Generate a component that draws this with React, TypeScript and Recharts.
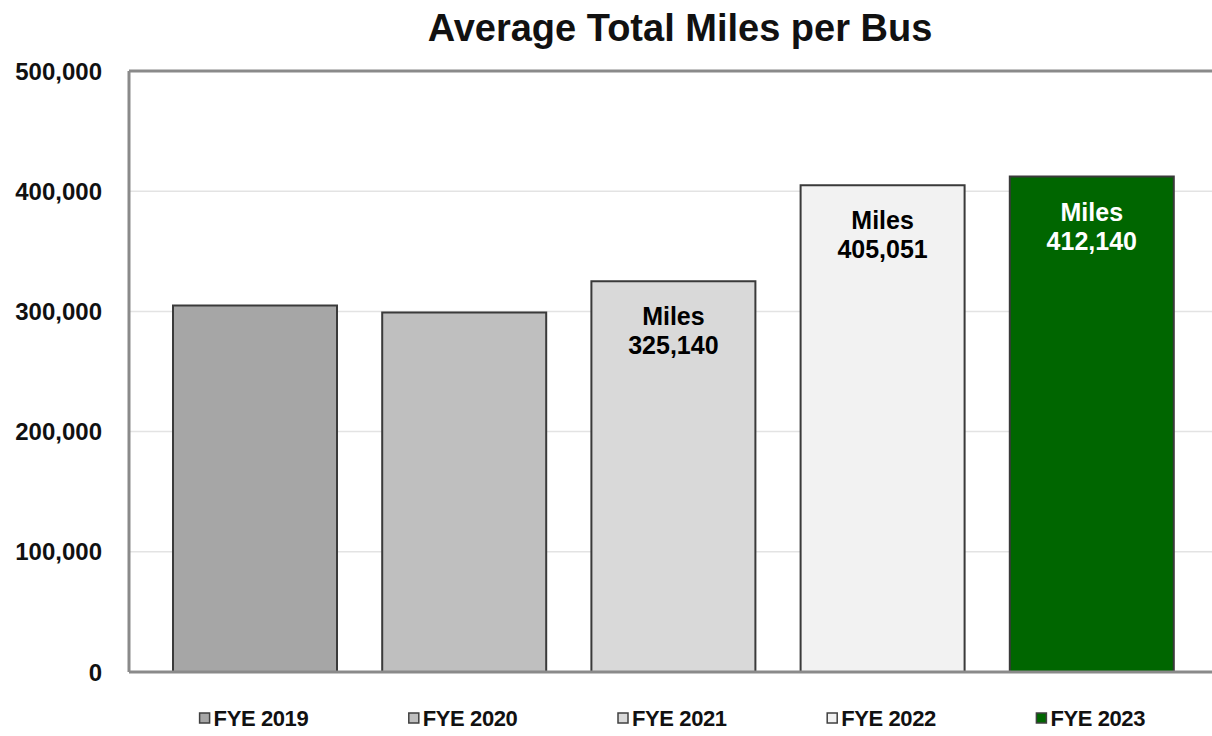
import React from 'react'
import { BarChart, Bar, XAxis, YAxis, CartesianGrid, Cell, LabelList, ReferenceLine } from 'recharts'

const categories = ['FYE 2019', 'FYE 2020', 'FYE 2021', 'FYE 2022', 'FYE 2023']
const miles = [305000, 299000, 325140, 405051, 412140]
const showLabel = [false, false, true, true, true]
const barColors = ['#a6a6a6', '#bfbfbf', '#d9d9d9', '#f2f2f2', '#006600']
const labelColors = ['#000000', '#000000', '#000000', '#000000', '#ffffff']
const yTicks = [0, 100000, 200000, 300000, 400000, 500000]

const FONT = '"Liberation Sans", Arial, sans-serif'

const data = categories.map((name, i) => ({ name, miles: miles[i], idx: i }))

const fmt = (v: number) => v.toLocaleString('en-US')

// legend entries sit centred under each bar, so they're drawn as x-axis ticks
function LegendTick({ x, y, payload }: any) {
  const i = payload.index
  return (
    <g transform={`translate(${x},${y + 46})`}>
      <rect x={-55} y={-5} width={10} height={10} fill={barColors[i]} stroke="#404040" strokeWidth={1.5} />
      <text
        x={-41}
        y={0}
        dominantBaseline="central"
        textAnchor="start"
        fontFamily={FONT}
        fontWeight="bold"
        fontSize={22}
        letterSpacing={-0.4}
        fill="#111"
      >
        {payload.value}
      </text>
    </g>
  )
}

function MilesLabel(props: any) {
  const { x, y, width, index } = props
  if (!showLabel[index]) return null
  const cx = x + width / 2
  const color = labelColors[index]
  return (
    <g fontFamily={FONT} fontWeight="bold" fontSize={25} fill={color} textAnchor="middle">
      <text x={cx} y={y + 44}>Miles</text>
      <text x={cx} y={y + 73}>{fmt(miles[index])}</text>
    </g>
  )
}

export default function App() {
  return (
    <div style={{ position: 'fixed', left: 0, top: 0, width: 1212, height: 736, overflow: 'hidden', background: '#fff' }}>
      <div
        style={{
          position: 'absolute',
          top: 7,
          left: 0,
          width: 1360,
          textAlign: 'center',
          fontFamily: FONT,
          fontWeight: 'bold',
          fontSize: 38,
          color: '#111',
        }}
      >
        Average Total Miles per Bus
      </div>
      <BarChart
        width={1230}
        height={736}
        data={data}
        margin={{ top: 71, right: 13, left: 0, bottom: 0 }}
        barSize={164}
      >
        <CartesianGrid horizontal vertical={false} stroke="#e3e3e3" strokeWidth={1.5} />
        <XAxis
          dataKey="name"
          height={64}
          padding={{ left: 21, right: 21 }}
          axisLine={{ stroke: '#8a8a8a', strokeWidth: 3 }}
          tickLine={false}
          tickSize={0}
          tickMargin={0}
          tick={<LegendTick />}
          interval={0}
        />
        <YAxis
          width={129}
          domain={[0, 500000]}
          ticks={yTicks}
          tickFormatter={fmt}
          axisLine={{ stroke: '#8a8a8a', strokeWidth: 3 }}
          tickLine={false}
          tickSize={0}
          tickMargin={27}
          tick={{ fontFamily: FONT, fontWeight: 'bold', fontSize: 24, fill: '#111' }}
        />
        <ReferenceLine y={500000} stroke="#8a8a8a" strokeWidth={3} />
        <Bar dataKey="miles" isAnimationActive={false} stroke="#3a3a3a" strokeWidth={2}>
          {data.map((d, i) => (
            <Cell key={d.name} fill={barColors[i]} />
          ))}
          <LabelList dataKey="miles" content={<MilesLabel />} />
        </Bar>
      </BarChart>
    </div>
  )
}
